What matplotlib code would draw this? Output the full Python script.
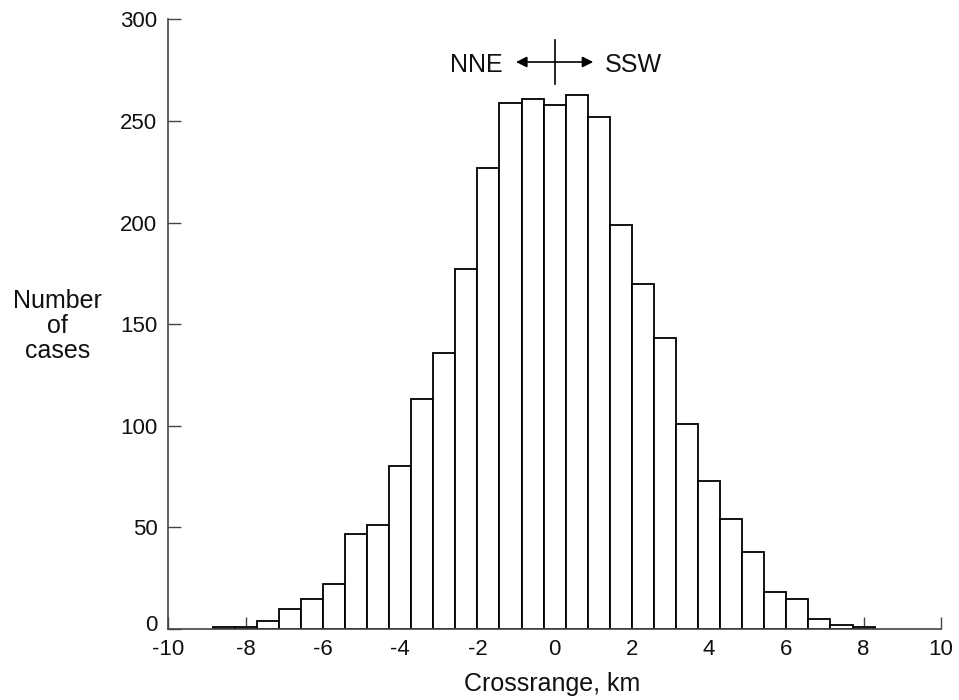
import numpy as np
import matplotlib
matplotlib.use('Agg')
import matplotlib.pyplot as plt
import matplotlib.transforms as mtransforms

plt.rcParams['font.family'] = ['Liberation Sans', 'DejaVu Sans']

# Histogram counts, one per bin, left to right (bin 15 is centred on 0)
counts = [1, 1, 4, 10, 15, 22, 47, 51, 80, 113, 136, 177, 227, 259, 261,
          258, 263, 252, 199, 170, 143, 101, 73, 54, 38, 18, 15, 5, 2, 1]
bin_width = 4 / 7
center_index = 15
x_ticks = [-10, -8, -6, -4, -2, 0, 2, 4, 6, 8, 10]
y_ticks = [0, 50, 100, 150, 200, 250, 300]

centers = (np.arange(len(counts)) - center_index) * bin_width

fig = plt.figure(figsize=(9.59, 7.0), dpi=100)
ax = fig.add_axes([0.1757, 0.1014, 0.8053, 0.8710])

ax.bar(centers, counts, width=bin_width, color='white', edgecolor='black',
       linewidth=1.3, zorder=2)

ax.set_xlim(-10, 10)
ax.set_ylim(0, 300)
ax.set_xticks(x_ticks)
ax.set_yticks(y_ticks)
ax.set_xticklabels([str(t) for t in x_ticks])

for side in ['top', 'right']:
    ax.spines[side].set_visible(False)
for side in ['left', 'bottom']:
    ax.spines[side].set_color('#444444')
    ax.spines[side].set_linewidth(1.2)
    ax.spines[side].set_zorder(3)

ax.tick_params(direction='in', length=9, width=1, color='#444444',
               labelsize=16, labelcolor='#111111')
ax.tick_params(axis='x', pad=7)
ax.tick_params(axis='y', pad=8)

# lift the "0" label a little so it clears the "-10" below it
zero_label = ax.get_yticklabels()[0]
zero_label.set_transform(zero_label.get_transform() +
                         mtransforms.ScaledTranslation(0, 4 / 72, fig.dpi_scale_trans))

fig.text(0.5756, 0.0129, 'Crossrange, km', ha='center', va='baseline',
         fontsize=18, color='#111111')
fig.text(0.06, 0.534, 'Number\nof\ncases', ha='center', va='center',
         fontsize=18, color='#111111', linespacing=1.05)

# direction marker
ax.plot([0, 0], [268, 290], color='black', linewidth=1.2, zorder=4)
ax.annotate('', xy=(-1.0, 279), xytext=(0, 279),
            arrowprops=dict(arrowstyle='-|>', color='black', lw=1.2,
                            mutation_scale=16, shrinkA=0, shrinkB=0))
ax.annotate('', xy=(1.0, 279), xytext=(0, 279),
            arrowprops=dict(arrowstyle='-|>', color='black', lw=1.2,
                            mutation_scale=16, shrinkA=0, shrinkB=0))
ax.text(-1.34, 274.3, 'NNE', ha='right', va='baseline', fontsize=18, color='#111111')
ax.text(1.31, 274.3, 'SSW', ha='left', va='baseline', fontsize=18, color='#111111')

fig.savefig('out.png', dpi=100)
